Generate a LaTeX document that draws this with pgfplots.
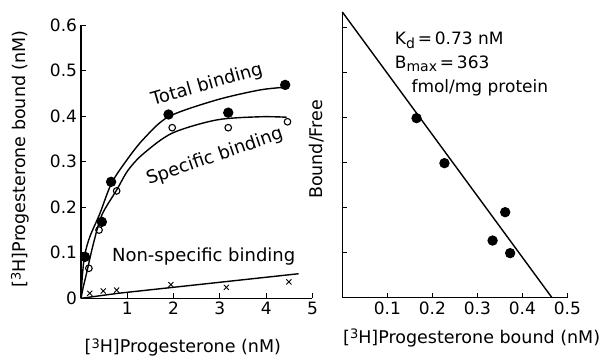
\documentclass[border=0pt]{standalone}
\usepackage{fontspec}
\setmainfont{DejaVu Sans}
\usepackage{pgfplots}
\pgfplotsset{compat=1.18}
\begin{document}
\begin{tikzpicture}
\path[use as bounding box] (0pt,0pt) rectangle (603pt,-364pt);
\pgfplotsset{every axis/.append style={
  scale only axis, axis lines*=left, line width=1.3pt,
  x axis line style={-}, y axis line style={-},
  tick style={line width=1.1pt, black}, major tick length=5pt,
  /pgf/number format/assume math mode=true,
  tick label style={font=\fontsize{17}{19}\selectfont},
  label style={font=\fontsize{17.5}{20}\selectfont},
  clip=false,
}}
\begin{axis}[at={(81pt,-298.3pt)}, anchor=south west, width=231.5pt, height=273pt,
  xmin=0, xmax=5, ymin=0, ymax=0.6,
  xtick={1,2,3,4,5}, xticklabels={1,2,3,4,5},
  ytick={0,0.1,0.2,0.3,0.4,0.5,0.6}, yticklabels={0,0.1,0.2,0.3,0.4,0.5,0.6},
  xlabel={[\raisebox{0.5ex}{\fontsize{13}{13}\selectfont 3}H]Progesterone (nM)},
  ylabel={[\raisebox{0.5ex}{\fontsize{13}{13}\selectfont 3}H]Progesterone bound (nM)},
  xlabel style={at={(axis description cs:0.44,-0.18)}, anchor=center},
  ylabel style={at={(axis description cs:-0.263,0.511)}, anchor=center}]
% total binding curve
\addplot[black, line width=1.4pt, smooth, tension=0.5] coordinates {
 (0,0) (0.03,0.05) (0.08,0.095) (0.19,0.135) (0.41,0.187) (0.66,0.253) (0.99,0.304)
 (1.35,0.35) (1.89,0.399) (2.93,0.436) (3.87,0.458) (4.44,0.464)};
% specific binding curve
\addplot[black, line width=1.4pt, smooth, tension=0.5] coordinates {
 (0,0) (0.05,0.025) (0.12,0.055) (0.27,0.121) (0.45,0.183) (0.77,0.238) (1.02,0.282)
 (1.35,0.318) (1.97,0.363) (2.93,0.392) (3.87,0.399) (4.44,0.398)};
% non-specific line
\addplot[black, line width=1.4pt] coordinates {(0,0) (0.8,0.011) (4.7,0.054)};
% total binding points
\addplot[only marks, mark=*, mark size=4.5pt, black] coordinates {
 (0.086,0.091) (0.45,0.168) (0.65,0.256) (1.89,0.404) (3.18,0.408) (4.41,0.469)};
% specific binding points
\addplot[only marks, mark=o, mark size=3.3pt, black, mark options={line width=1.1pt, fill=white}] coordinates {
 (0.17,0.066) (0.39,0.150) (0.77,0.236) (1.97,0.375) (3.18,0.375) (4.46,0.388)};
% non-specific points
\addplot[only marks, mark=x, mark size=3.6pt, black, mark options={line width=0.9pt}] coordinates {
 (0.19,0.011) (0.48,0.016) (0.77,0.018) (1.94,0.030) (3.14,0.024) (4.49,0.036)};
\node[rotate=16, font=\fontsize{18}{20}\selectfont] at (axis cs:2.72,0.469) {Total binding};
\node[rotate=19, font=\fontsize{18}{20}\selectfont] at (axis cs:2.89,0.311) {Specific binding};
\node[font=\fontsize{18}{20}\selectfont] at (axis cs:2.65,0.091) {Non-specific binding};
\end{axis}
\begin{axis}[at={(342.3pt,-297.7pt)}, anchor=south west, width=225pt, height=285.75pt,
  xmin=0, xmax=0.5, ymin=0, ymax=6.35,
  xtick={0.1,0.2,0.3,0.4,0.5}, xticklabels={0.1,0.2,0.3,0.4,0.5},
  ytick={1,2,3,4,5,6}, yticklabels={},
  xlabel={[\raisebox{0.5ex}{\fontsize{13}{13}\selectfont 3}H]Progesterone bound (nM)},
  ylabel={Bound/Free},
  xlabel style={at={(axis description cs:0.575,-0.141)}, anchor=center},
  ylabel style={at={(axis description cs:-0.112,0.519)}, anchor=center}]
\addplot[black, line width=1.4pt] coordinates {(0,6.35) (0.466,0)};
\addplot[only marks, mark=*, mark size=4.5pt, black] coordinates {
 (0.165,3.99) (0.227,2.99) (0.362,1.90) (0.334,1.27) (0.373,0.99)};
\node[anchor=base west, font=\fontsize{17}{19}\selectfont] at (axis cs:0.108,5.62) {K\raisebox{-0.35ex}{\fontsize{14}{14}\selectfont d}\,=\,0.73 nM};
\node[anchor=base west, font=\fontsize{17}{19}\selectfont] at (axis cs:0.108,5.10) {B\raisebox{-0.35ex}{\fontsize{14}{14}\selectfont max}\,=\,363};
\node[anchor=base west, font=\fontsize{17}{19}\selectfont] at (axis cs:0.145,4.57) {fmol/mg protein};
\end{axis}
\end{tikzpicture}
\end{document}
